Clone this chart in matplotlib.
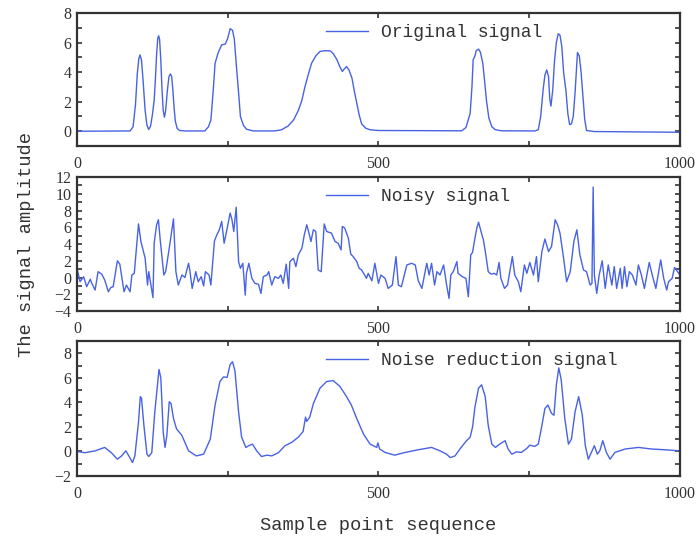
import matplotlib
matplotlib.use("Agg")
import matplotlib.pyplot as plt
from matplotlib.ticker import MultipleLocator

# Original signal
orig_x = [0, 88, 93, 97, 100, 102.5, 104.5, 107, 110, 113, 116, 119, 122, 125, 128, 130, 132, 134, 135.5, 137,
          139, 141, 143, 145, 147, 150, 152.5, 155, 157, 159, 161, 163, 166, 170, 180, 212, 218, 222, 226, 229,
          234, 240, 246, 250, 254, 258, 261, 264, 268, 271, 276, 281, 292, 328, 339, 350, 359, 367, 373, 378,
          384, 389, 396, 403, 411, 420, 425, 431, 436, 440, 443, 447, 451, 456, 460, 464, 468, 472, 479, 486,
          500, 638, 645, 652, 655, 657, 660, 662, 666, 669, 673, 676, 679, 683, 688, 694, 704, 759, 765, 769,
          773, 776, 779, 782, 784, 786, 789, 792, 795, 798, 801, 804, 807, 811, 814, 817, 820, 823, 826, 829,
          830, 833, 836, 839, 842, 845, 858, 1000]
orig_y = [0, 0.02, 0.3, 1.8, 3.9, 4.9, 5.17, 4.8, 3.2, 1.4, 0.4, 0.12, 0.35, 1.1, 2.1, 3.5, 5.2, 6.3, 6.46, 6.2,
          4.8, 2.8, 1.4, 0.95, 1.4, 2.8, 3.7, 3.88, 3.7, 2.8, 1.6, 0.7, 0.2, 0.05, 0.02, 0.02, 0.3, 0.75, 2.8, 4.6,
          5.3, 5.85, 5.9, 6.3, 6.94, 6.83, 6.2, 4.6, 2.6, 1.0, 0.4, 0.14, 0.02, 0.02, 0.1, 0.35, 0.75, 1.4, 2.1, 3.0,
          3.9, 4.6, 5.1, 5.4, 5.45, 5.44, 5.25, 4.85, 4.35, 4.05, 4.2, 4.38, 4.15, 3.6, 2.7, 1.9, 1.1, 0.5, 0.2, 0.1,
          0.05, 0.03, 0.25, 1.2, 3.0, 4.83, 5.1, 5.45, 5.56, 5.35, 4.6, 3.4, 2.1, 0.9, 0.3, 0.1, 0.03, 0.02, 0.1, 1.0,
          2.8, 3.8, 4.15, 3.7, 2.2, 1.7, 2.8, 4.8, 6.0, 6.6, 6.5, 5.74, 4.0, 2.7, 1.2, 0.45, 0.5, 1.0, 2.6, 4.6,
          5.33, 5.1, 4.0, 2.4, 0.8, 0.05, -0.02, -0.07]

# Noisy signal
noisy_x = [0, 5, 11, 16, 22, 24, 30, 35, 41, 46, 52, 56, 60, 67, 71, 78, 82, 88, 91, 95,
           102, 106, 113, 117, 119, 126, 128, 132, 135, 138, 140, 144, 147, 153, 160, 164, 168, 174, 179, 185,
           187, 191, 197, 201, 206, 210, 213, 219, 222, 228, 232, 236, 240, 244, 248, 254, 257, 260, 264, 268,
           271, 275, 279, 281, 285, 290, 295, 301, 305, 309, 315, 318, 323, 328, 334, 338, 342, 347, 351, 353,
           359, 363, 367, 373, 377, 381, 384, 388, 392, 396, 400, 405, 410, 414, 422, 428, 433, 438, 440, 444,
           450, 454, 458, 464, 468, 472, 477, 480, 483, 489, 494, 500, 504, 511, 516, 523, 529, 533, 538, 547,
           555, 561, 566, 572, 580, 584, 588, 593, 597, 602, 608, 613, 617, 620, 624, 630, 632, 639, 645, 649,
           653, 656, 659, 663, 666, 670, 674, 678, 682, 687, 692, 696, 700, 703, 709, 714, 722, 726, 732, 736,
           742, 746, 751, 757, 762, 765, 771, 776, 782, 787, 793, 797, 801, 807, 812, 818, 824, 829, 834, 840,
           845, 851, 854, 856, 858, 862, 866, 871, 876, 881, 887, 891, 895, 901, 904, 908, 912, 916, 921, 927,
           931, 936, 941, 949, 954, 960, 968, 973, 978, 981, 987, 991, 1000]
noisy_y = [1.1, -0.5, 0.1, -1.1, -0.2, -0.6, -1.5, 0.7, 0.4, -0.3, -1.7, -1.2, -1.1, 2.0, 1.6, -1.7, -0.9, -1.7, 0.3, 0.5,
           6.4, 4.3, 2.3, -0.9, 0.7, -2.4, 4.1, 6.3, 6.9, 4.5, 3.1, 0.3, 0.7, 3.5, 7.0, 0.7, -0.9, 0.3, 0.0, 1.7,
           0.9, -1.3, 0.7, -0.5, 0.1, -1.0, 0.7, 0.3, -0.9, 4.4, 5.1, 5.7, 6.7, 4.1, 5.5, 7.7, 6.9, 5.5, 8.4, 1.9,
           1.1, 1.7, -2.1, 0.5, 1.7, -0.1, -0.7, -0.8, -1.9, 0.1, 0.3, 0.7, -0.9, 0.1, -0.1, 0.3, -0.7, 1.6, -1.3, 1.9,
           2.3, 1.3, 2.7, 3.5, 5.1, 6.3, 5.5, 4.3, 5.7, 5.5, 0.9, 0.7, 6.4, 5.5, 5.3, 4.3, 4.1, 3.3, 6.1, 5.9,
           4.7, 2.8, 2.5, 1.9, 1.1, 0.9, 0.3, -0.1, 0.5, -0.4, 1.7, -0.7, 0.3, -0.1, -1.3, -0.9, 2.5, -0.9, -1.1, 1.5,
           1.7, 1.5, -0.4, -1.3, 1.7, 0.3, 1.7, -0.9, 0.7, 0.3, 1.5, -0.9, -2.5, 0.3, 0.7, 1.9, 0.5, 0.1, -0.1, -2.3,
           2.7, 3.0, 4.3, 5.9, 6.6, 5.5, 4.5, 2.7, 0.7, 0.4, 0.5, 0.3, 1.8, -0.1, -1.3, -0.9, 2.5, 0.3, -0.5, -1.7,
           1.5, 0.5, 1.8, 0.3, 2.5, -0.5, 3.1, 4.6, 3.1, 3.7, 6.9, 6.3, 5.3, 2.3, -0.5, 0.7, 4.3, 5.7, 2.7, 0.9,
           0.7, -0.9, -0.7, 10.8, 0.3, -1.9, 0.3, 2.0, -1.3, 1.5, -0.9, 1.3, -1.3, 1.1, -1.3, 1.3, -1.1, 0.7, 0.3, -0.9,
           1.5, 0.3, -1.3, 1.8, 0.3, -1.3, 2.1, -0.1, -1.5, -0.5, -0.1, 1.2, 0.3]

# Noise reduction signal
den_x = [0, 13, 30, 46, 57, 67, 74, 81, 86, 92, 96, 102, 105, 107, 111, 116, 119, 124, 129, 136,
         139, 143, 146, 149, 153, 156, 160, 165, 174, 185, 198, 210, 221, 229, 237, 243, 249, 254, 258, 262,
         268, 273, 280, 285, 291, 298, 306, 315, 323, 334, 345, 356, 367, 375, 379, 381, 386, 392, 403, 414,
         425, 436, 447, 455, 464, 475, 486, 497, 499, 502, 511, 527, 544, 566, 588, 602, 613, 619, 627, 635,
         646, 652, 656, 660, 666, 671, 677, 682, 688, 694, 701, 710, 715, 721, 729, 737, 746, 751, 759, 765,
         770, 776, 781, 787, 791, 795, 799, 803, 809, 815, 820, 826, 832, 838, 843, 848, 853, 858, 863, 867,
         872, 878, 884, 892, 909, 931, 953, 975, 1000]
den_y = [0.0, -0.1, 0.05, 0.33, -0.1, -0.63, -0.36, 0.05, -0.36, -0.9, -0.36, 2.4, 4.47, 4.33, 2.1, -0.22, -0.41, -0.1, 3.2, 6.68,
         6.0, 1.57, 0.33, 1.3, 4.05, 3.9, 2.7, 1.85, 1.3, 0.05, -0.36, -0.22, 1.0, 3.78, 5.7, 6.07, 6.04, 7.09, 7.31, 6.54,
         3.2, 1.16, 0.33, 0.47, 0.6, 0.05, -0.41, -0.3, -0.36, -0.1, 0.47, 0.74, 1.16, 1.63, 2.8, 2.45, 2.8, 3.9, 5.16, 5.7,
         5.77, 5.3, 4.47, 3.78, 2.68, 1.43, 0.6, 0.33, 0.7, 0.2, -0.08, -0.3, -0.08, 0.14, 0.33, 0.05, -0.22, -0.5, -0.36, 0.2,
         0.88, 1.16, 1.99, 3.64, 5.16, 5.43, 4.47, 2.12, 0.6, 0.33, 0.6, 0.88, 0.2, -0.22, -0.03, -0.08, 0.25, 0.52, 0.41, 0.6,
         1.85, 3.5, 3.78, 3.1, 2.95, 5.43, 6.81, 5.85, 2.68, 0.6, 1.0, 3.23, 4.47, 2.95, 0.47, -0.63, -0.08, 0.47, -0.22, 0.05,
         0.88, -0.08, -0.63, -0.08, 0.2, 0.33, 0.2, 0.14, 0.05]

labels = ["Original signal", "Noisy signal", "Noise reduction signal"]
ylims = [(-1, 8), (-4, 12), (-2, 9)]

line_color = "#4862e4"
dark = "#333333"
mono = "Liberation Mono"
serif = "Liberation Serif"

fig = plt.figure(figsize=(7, 5.41), dpi=100)
rects = [[0.11, 0.7301, 0.8614, 0.2458],
         [0.11, 0.4251, 0.8614, 0.2477],
         [0.11, 0.1201, 0.8614, 0.2496]]
series = [(orig_x, orig_y), (noisy_x, noisy_y), (den_x, den_y)]

axes = []
for i, (xs, ys) in enumerate(series):
    ax = fig.add_axes(rects[i])
    ax.plot(xs, ys, color=line_color, lw=1.0, label=labels[i])
    ax.set_xlim(0, 1000)
    ax.set_ylim(*ylims[i])
    ax.xaxis.set_major_locator(MultipleLocator(500))
    ax.xaxis.set_minor_locator(MultipleLocator(250))
    ax.yaxis.set_major_locator(MultipleLocator(2))
    ax.yaxis.set_minor_locator(MultipleLocator(1))
    ax.tick_params(which="both", direction="in", top=True, right=True,
                   length=3.5, width=1.2, color=dark)
    ax.tick_params(axis="x", pad=7)
    ax.tick_params(axis="y", pad=4)
    for lab in ax.get_xticklabels() + ax.get_yticklabels():
        lab.set_fontfamily(serif)
        lab.set_fontsize(11.5)
        lab.set_color(dark)
    for sp in ax.spines.values():
        sp.set_linewidth(1.6)
        sp.set_color(dark)
    leg = ax.legend(loc="upper left", bbox_to_anchor=(0.413, 0.915), frameon=False,
                    borderaxespad=0, borderpad=0, handlelength=2.3, handletextpad=0.75,
                    prop={"family": mono, "size": 13})
    for t in leg.get_texts():
        t.set_color(dark)
    axes.append(ax)

axes[1].set_ylabel("The signal amplitude", fontfamily=mono, fontsize=13.5, color=dark, labelpad=14)
axes[2].set_xlabel("Sample point sequence", fontfamily=mono, fontsize=13.5, color=dark, labelpad=11)

fig.savefig("out.png", dpi=100)
